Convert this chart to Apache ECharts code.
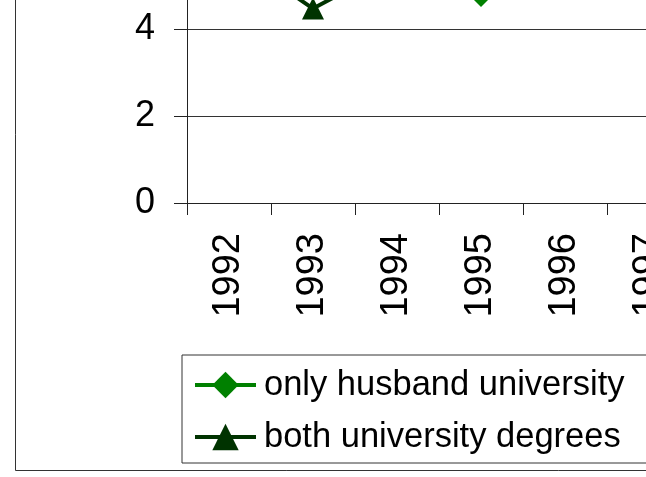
<!DOCTYPE html>
<html>
<head>
<meta charset="utf-8">
<script src="https://cdn.jsdelivr.net/npm/echarts@6/dist/echarts.min.js"></script>
<style>
html,body{margin:0;padding:0;width:646px;height:477px;overflow:hidden;background:#fff;position:relative;}
#chart{position:absolute;left:0;top:-200px;width:1100px;height:677px;}
</style>
</head>
<body>
<div id="chart"></div>
<script>
const years = ['1992','1993','1994','1995','1996','1997','1998','1999','2000'];
const onlyHusband = [5.6, 5.4, 5.2, 4.76, 5.3, 5.5, 5.6, 5.8, 6.0];
const bothDegrees = [5.8, 4.47, 5.5, 5.3, 5.6, 5.9, 6.1, 6.3, 6.5];
const yTicks = [0, 2, 4, 6, 8];
const seriesNames = ['only husband university', 'both university degrees'];

const chart = echarts.init(document.getElementById('chart'), null, {renderer: 'canvas'});
const FONT = 'Liberation Sans, Arial, sans-serif';
chart.setOption({
  animation: false,
  backgroundColor: '#fff',
  graphic: [{
    type: 'rect',
    shape: {x: 15.5, y: -10, width: 2000, height: 680.5},
    style: {fill: 'none', stroke: '#333', lineWidth: 1},
    z: 0
  }],
  grid: {left: 187, top: 55, height: 348, width: 756, containLabel: false},
  xAxis: {
    type: 'category',
    data: years,
    boundaryGap: true,
    axisLine: {show: true, lineStyle: {color: '#222', width: 1}},
    axisTick: {show: true, inside: false, length: 12, lineStyle: {color: '#222'}},
    axisLabel: {rotate: 90, margin: 30, fontSize: 38, fontFamily: FONT, color: '#000'},
    splitLine: {show: false}
  },
  yAxis: {
    type: 'value',
    min: yTicks[0], max: yTicks[yTicks.length - 1], interval: 2,
    axisLine: {show: true, lineStyle: {color: '#222', width: 1}},
    axisTick: {show: true, inside: false, length: 13, lineStyle: {color: '#222'}},
    axisLabel: {margin: 32, fontSize: 36, fontFamily: FONT, color: '#000'},
    splitLine: {show: true, lineStyle: {color: '#333', width: 1}}
  },
  legend: {
    orient: 'vertical',
    left: 182, top: 555,
    padding: [10, 60, 6, 11],
    itemGap: 12,
    itemWidth: 61,
    itemHeight: 33,
    borderColor: '#333',
    borderWidth: 1,
    backgroundColor: '#fff',
    lineStyle: {width: 4},
    textStyle: {fontSize: 34.5, fontFamily: FONT, color: '#000', padding: [0, 0, 0, 3], lineHeight: 40},
    data: seriesNames
  },
  series: [
    {
      name: seriesNames[0], type: 'line', data: onlyHusband,
      symbol: 'diamond', symbolSize: 22,
      itemStyle: {color: '#008000'},
      lineStyle: {color: '#008000', width: 4}
    },
    {
      name: seriesNames[1], type: 'line', data: bothDegrees,
      symbol: 'triangle', symbolSize: 22,
      itemStyle: {color: '#003300'},
      lineStyle: {color: '#003300', width: 4}
    }
  ]
});
</script>
</body>
</html>
